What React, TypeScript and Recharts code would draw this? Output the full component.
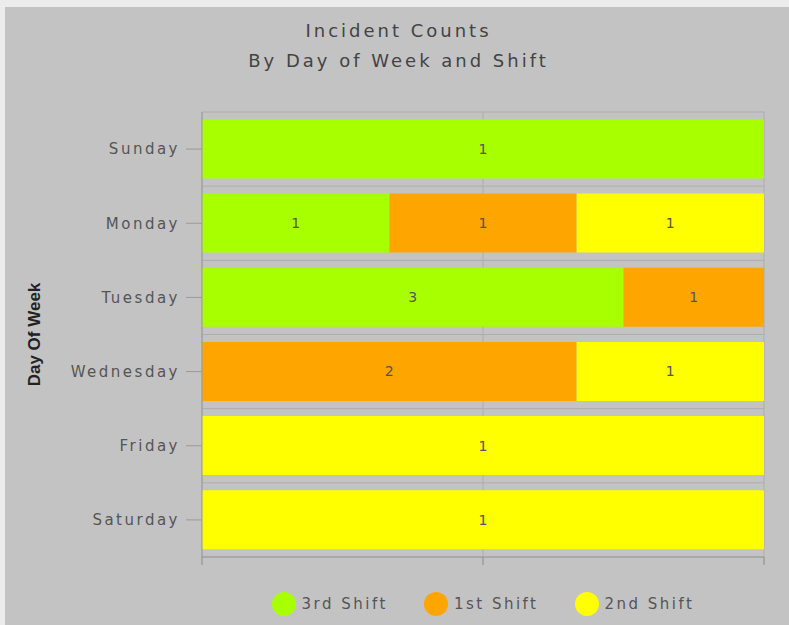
import React from 'react';
import { BarChart, Bar, XAxis, YAxis, CartesianGrid, Legend, LabelList } from 'recharts';

const days = ['Sunday', 'Monday', 'Tuesday', 'Wednesday', 'Friday', 'Saturday'];
const thirdShift = [1, 1, 3, 0, 0, 0];
const firstShift = [0, 1, 1, 2, 0, 0];
const secondShift = [0, 1, 0, 1, 1, 1];
const xTicks = [0, 0.5, 1];

const series = [
  { key: 'third', name: '3rd Shift', color: '#a8ff00' },
  { key: 'first', name: '1st Shift', color: '#ffa500' },
  { key: 'second', name: '2nd Shift', color: '#ffff00' },
];

const data = days.map((day, i) => ({
  day,
  third: thirdShift[i],
  first: firstShift[i],
  second: secondShift[i],
}));

const FONT = '"DejaVu Sans", sans-serif';

const CustomLegend = () => (
  <div style={{ display: 'flex', justifyContent: 'center', alignItems: 'center', height: 24 }}>
    {series.map((s) => (
      <div key={s.key} style={{ display: 'flex', alignItems: 'center', margin: '0 18px' }}>
        <span style={{ width: 24, height: 24, borderRadius: 12, background: s.color, display: 'inline-block' }} />
        <span style={{ marginLeft: 6, fontFamily: FONT, fontSize: 15, letterSpacing: 2.5, color: '#555' }}>{s.name}</span>
      </div>
    ))}
  </div>
);

const YLabel = (props: any) => {
  const vb = props.viewBox || {};
  const cx = 34;
  const cy = (vb.y || 0) + (vb.height || 0) / 2;
  return (
    <text
      x={cx}
      y={cy}
      transform={`rotate(-90, ${cx}, ${cy})`}
      textAnchor="middle"
      dominantBaseline="central"
      style={{ fontFamily: '"Liberation Sans", sans-serif', fontWeight: 700, fontSize: 17, fill: '#222' }}
    >
      Day Of Week
    </text>
  );
};

const hideZero = (v: any) => (v ? v : '');

export default function App() {
  return (
    <div style={{ position: 'absolute', left: 0, top: 0, width: 789, height: 625, background: '#ececec', overflow: 'hidden' }}>
      <div style={{ position: 'absolute', left: 5, top: 7, right: 0, bottom: 0, background: '#c3c3c3' }} />
      <div style={{ position: 'absolute', left: 4, top: 16, width: 789, textAlign: 'center', fontFamily: FONT, fontSize: 18, letterSpacing: 3, lineHeight: '30px', color: '#444' }}>
        <div>Incident Counts</div>
        <div>By Day of Week and Shift</div>
      </div>
      <div style={{ position: 'absolute', left: 0, top: 0 }}>
        <BarChart
          layout="vertical"
          width={789}
          height={625}
          data={data}
          stackOffset="expand"
          barCategoryGap="10%"
          margin={{ top: 112, right: 25, left: 0, bottom: 9 }}
        >
          <CartesianGrid
            stroke="#adadad"
            horizontalCoordinatesGenerator={({ offset }: any) => {
              const top = offset?.top ?? 112;
              const h = offset?.height ?? 445;
              return days.map((_, i) => top + (i * h) / days.length).concat(top + h);
            }}
          />
          <XAxis
            type="number"
            domain={[0, 1]}
            ticks={xTicks}
            tickFormatter={() => ''}
            height={35}
            tickSize={8}
            axisLine={{ stroke: '#9a9a9a' }}
            tickLine={{ stroke: '#8a8a8a' }}
          />
          <YAxis
            type="category"
            dataKey="day"
            width={202}
            tickSize={16}
            tickMargin={6}
            axisLine={{ stroke: '#9a9a9a' }}
            tickLine={{ stroke: '#9a9a9a' }}
            tick={{ fill: '#555', fontSize: 15, fontFamily: FONT, letterSpacing: 2.5 }}
            label={<YLabel />}
          />
          <Legend verticalAlign="bottom" content={<CustomLegend />} wrapperStyle={{ left: 202, width: 562 }} />
          {series.map((s) => (
            <Bar key={s.key} dataKey={s.key} name={s.name} stackId="a" fill={s.color} isAnimationActive={false}>
              <LabelList
                dataKey={s.key}
                position="center"
                formatter={hideZero}
                style={{ fill: '#555', fontSize: 14, fontFamily: FONT }}
              />
            </Bar>
          ))}
        </BarChart>
      </div>
    </div>
  );
}
